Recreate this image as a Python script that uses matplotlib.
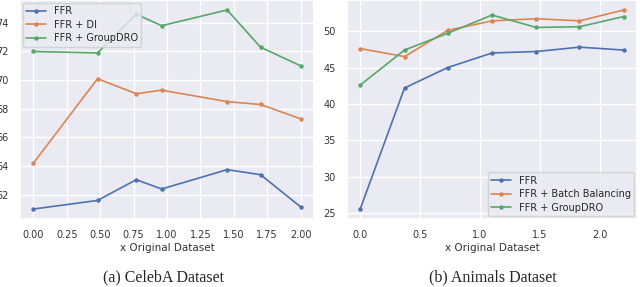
import matplotlib
matplotlib.use("Agg")
import matplotlib.pyplot as plt
import seaborn as sns

sns.set_theme(style="darkgrid")
plt.rcParams['font.family'] = ['DejaVu Sans']

# CelebA
celeba_x = [0.0, 0.48, 0.77, 0.96, 1.45, 1.70, 2.0]
celeba_ffr = [61.0, 61.6, 63.05, 62.4, 63.75, 63.4, 61.15]
celeba_di = [64.2, 70.1, 69.05, 69.3, 68.5, 68.3, 67.3]
celeba_gdro = [72.0, 71.9, 74.6, 73.8, 74.9, 72.3, 71.0]
celeba_labels = ["FFR", "FFR + DI", "FFR + GroupDRO"]

# Animals
animals_x = [0.0, 0.37, 0.73, 1.10, 1.47, 1.83, 2.20]
animals_ffr = [25.6, 42.2, 45.0, 47.0, 47.2, 47.8, 47.4]
animals_bb = [47.6, 46.5, 50.1, 51.4, 51.7, 51.4, 52.9]
animals_gdro = [42.6, 47.4, 49.7, 52.2, 50.5, 50.6, 52.0]
animals_labels = ["FFR", "FFR + Batch Balancing", "FFR + GroupDRO"]

captions = ["(a) CelebA Dataset", "(b) Animals Dataset"]
xlabel = "x Original Dataset"

colors = sns.color_palette()[:3]

fig = plt.figure(figsize=(6.4, 2.87), dpi=100)
ax1 = fig.add_axes([20/640, 1-219/287, 294/640, 219/287])
ax2 = fig.add_axes([347/640, 1-219/287, 290/640, 219/287])

for ys, lab, c in zip([celeba_ffr, celeba_di, celeba_gdro], celeba_labels, colors):
    ax1.plot(celeba_x, ys, marker='o', markersize=2.2, linewidth=1.2, color=c, label=lab)
for ys, lab, c in zip([animals_ffr, animals_bb, animals_gdro], animals_labels, colors):
    ax2.plot(animals_x, ys, marker='o', markersize=2.2, linewidth=1.2, color=c, label=lab)

ax1.set_xticks([0, 0.25, 0.5, 0.75, 1.0, 1.25, 1.5, 1.75, 2.0])
ax1.set_yticks([62, 64, 66, 68, 70, 72, 74])
ax2.set_xticks([0, 0.5, 1.0, 1.5, 2.0])
ax2.set_yticks([25, 30, 35, 40, 45, 50])

for ax in (ax1, ax2):
    ax.tick_params(labelsize=7, pad=2, colors='#333333')
    ax.set_xlabel(xlabel, fontsize=7.5, labelpad=2, color='#333333')

ax1.legend(loc='upper left', fontsize=7, borderaxespad=0.3, handlelength=2.0,
           labelspacing=0.35, borderpad=0.35)
ax2.legend(loc='lower right', fontsize=7, borderaxespad=0.3, handlelength=2.0,
           labelspacing=0.35, borderpad=0.35)

fig.text(0.255, 1-277/287, captions[0], ha='center', va='center',
         fontsize=11.5, family='Liberation Serif')
fig.text(0.77, 1-277/287, captions[1], ha='center', va='center',
         fontsize=11.5, family='Liberation Serif')

fig.savefig("out.png", dpi=100)
